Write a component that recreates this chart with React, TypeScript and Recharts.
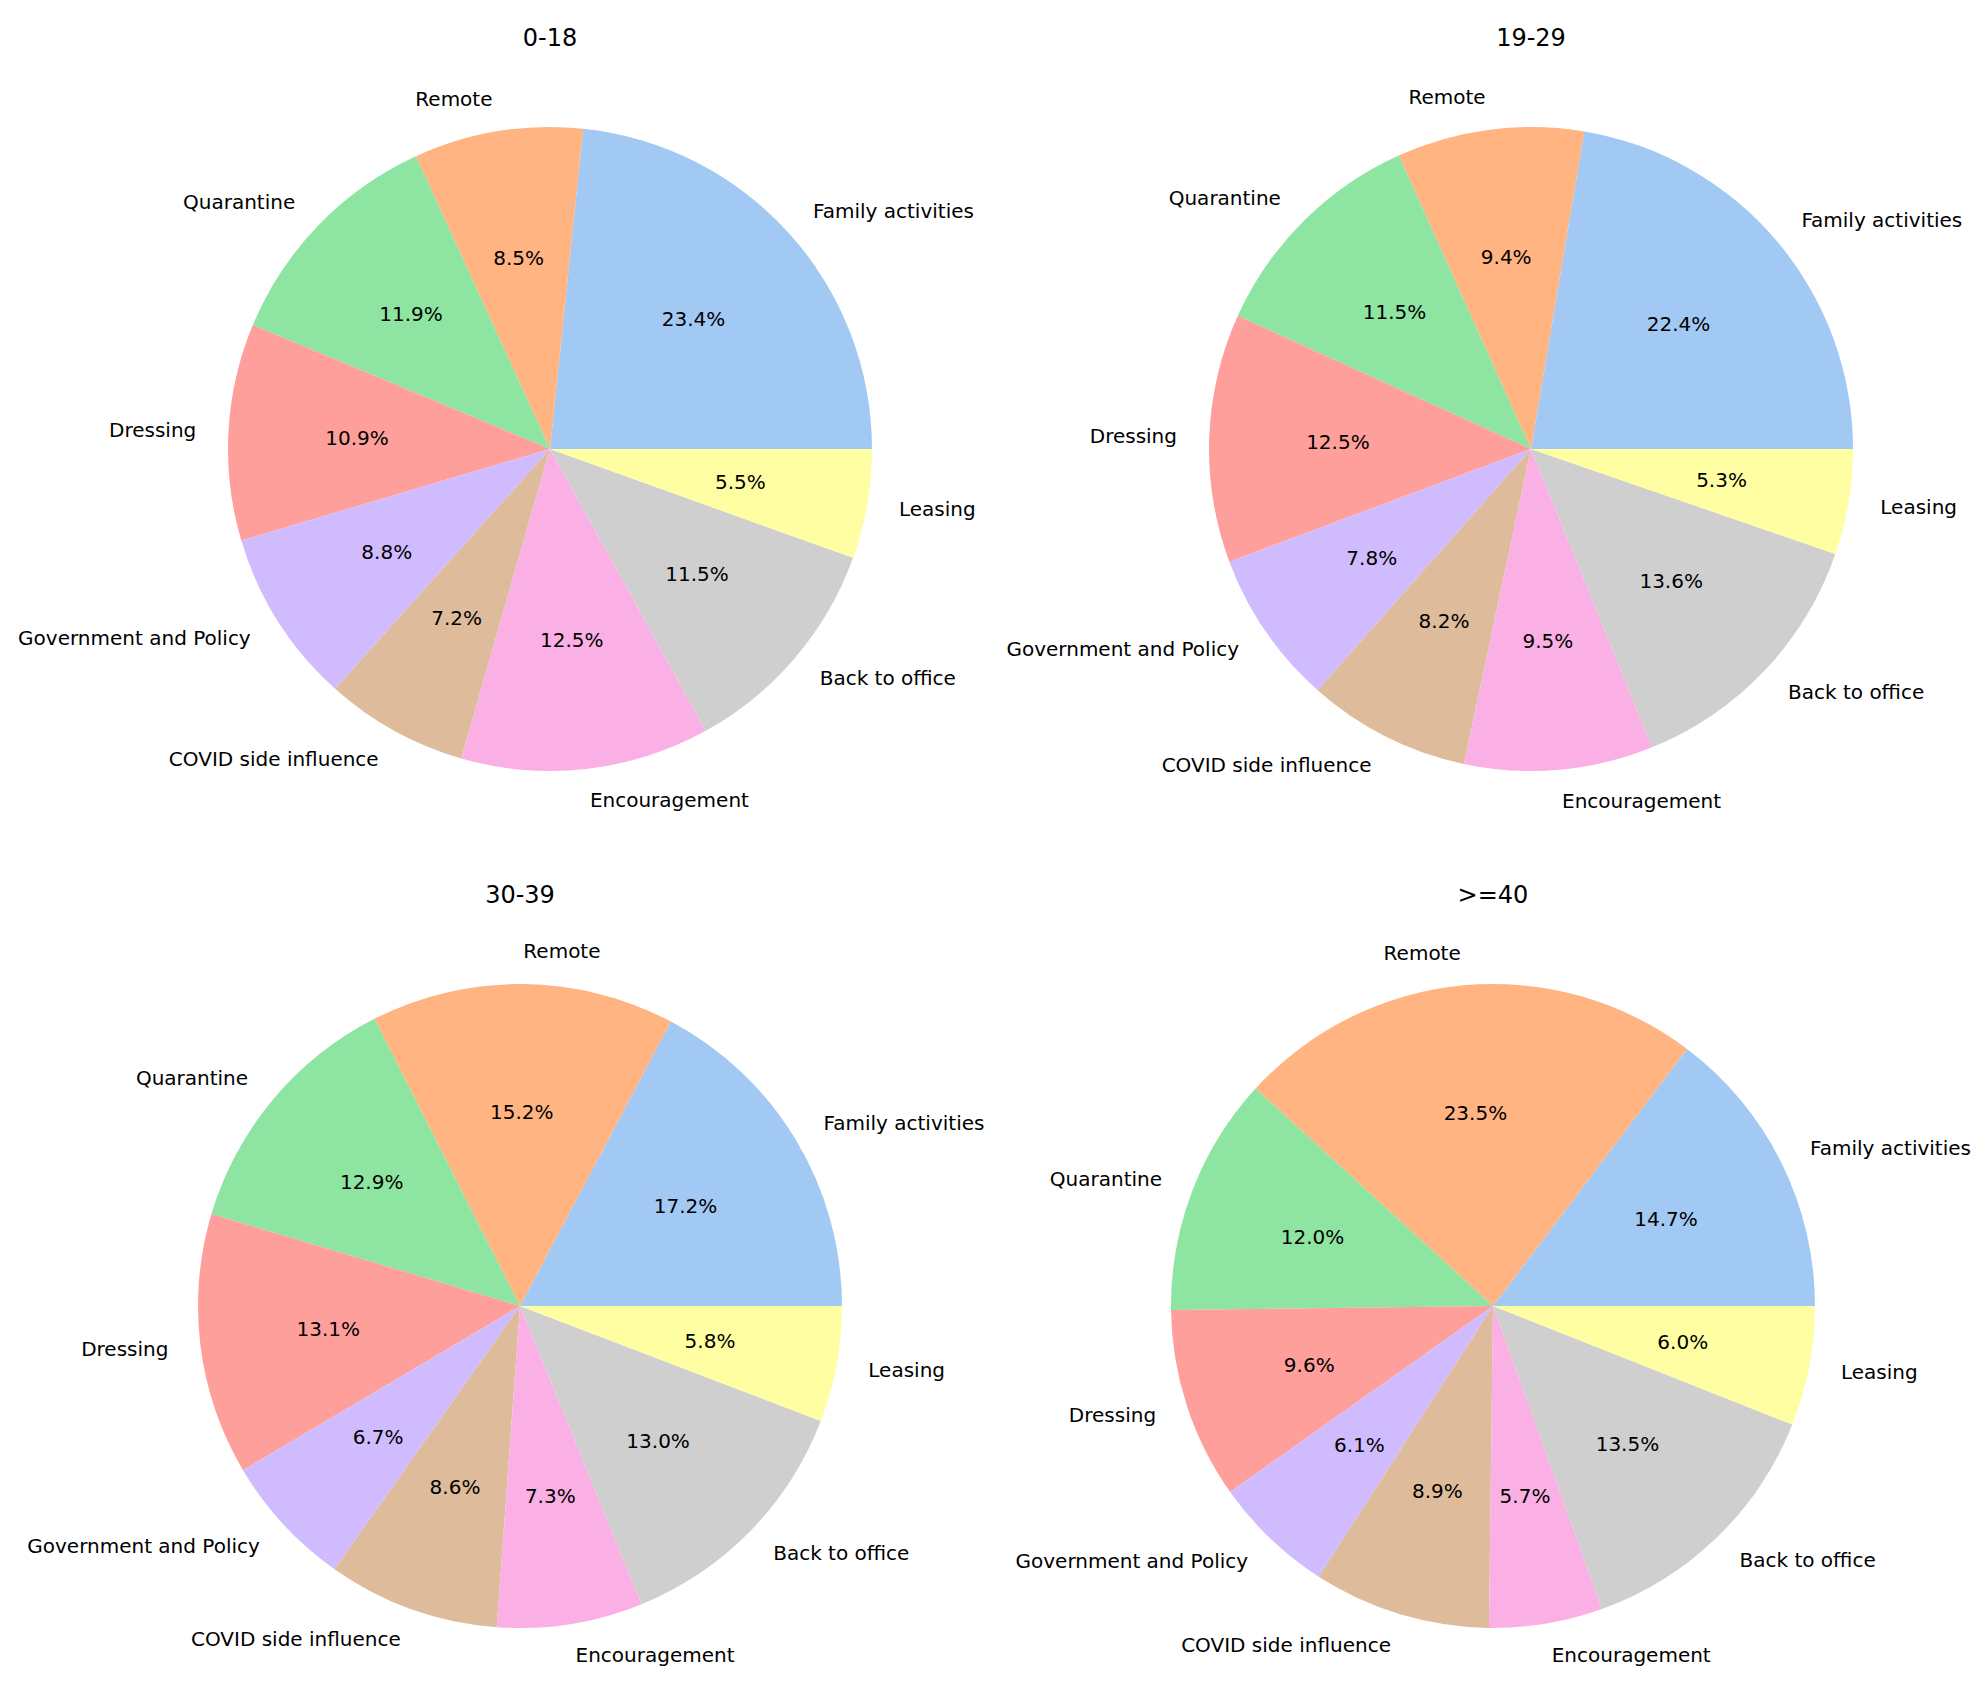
import React from 'react';
import { PieChart, Pie, Cell } from 'recharts';

const CATEGORIES = [
  'Family activities',
  'Remote',
  'Quarantine',
  'Dressing',
  'Government and Policy',
  'COVID side influence',
  'Encouragement',
  'Back to office',
  'Leasing',
];

const AGE_GROUPS = ['0-18', '19-29', '30-39', '>=40'];

// shares (%) per category, same order as CATEGORIES
const SHARES_0_18 = [23.4, 8.5, 11.9, 10.9, 8.8, 7.2, 12.5, 11.5, 5.5];
const SHARES_19_29 = [22.4, 9.4, 11.5, 12.5, 7.8, 8.2, 9.5, 13.6, 5.3];
const SHARES_30_39 = [17.2, 15.2, 12.9, 13.1, 6.7, 8.6, 7.3, 13.0, 5.8];
const SHARES_40_UP = [14.7, 23.5, 12.0, 9.6, 6.1, 8.9, 5.7, 13.5, 6.0];

const COLORS = ['#a1c9f4', '#ffb482', '#8de5a1', '#ff9f9b', '#d0bbff', '#debb9b', '#fab0e4', '#cfcfcf', '#fffea3'];

const FONT = '"DejaVu Sans", Verdana, sans-serif';
const RADIAN = Math.PI / 180;
const RADIUS = 322;
const QW = 993;
const QH = 854;

// quadrant offset + pie centre inside the quadrant
const PANELS = [
  { left: 0, top: 0, cx: 550, cy: 449, shares: SHARES_0_18 },
  { left: QW, top: 0, cx: 538, cy: 449, shares: SHARES_19_29 },
  { left: 0, top: QH, cx: 520, cy: 452, shares: SHARES_30_39 },
  { left: QW, top: QH, cx: 500, cy: 452, shares: SHARES_40_UP },
];

const renderLabel = (props: any) => {
  const { cx, cy, midAngle, outerRadius, name, value } = props;
  const cos = Math.cos(-midAngle * RADIAN);
  const sin = Math.sin(-midAngle * RADIAN);
  const lx = cx + outerRadius * 1.1 * cos;
  const ly = cy + outerRadius * 1.1 * sin;
  const px = cx + outerRadius * 0.6 * cos;
  const py = cy + outerRadius * 0.6 * sin;
  return (
    <g>
      <text x={lx} y={ly + 6.5} textAnchor={lx > cx ? 'start' : 'end'} fontSize={20} fontFamily={FONT} fill="#000">
        {name}
      </text>
      <text x={px} y={py + 6.5} textAnchor="middle" fontSize={20} fontFamily={FONT} fill="#000">
        {`${Number(value).toFixed(1)}%`}
      </text>
    </g>
  );
};

const App: React.FC = () => {
  return (
    <div style={{ position: 'absolute', left: 0, top: 0, width: 1986, height: 1708, background: '#fff', fontFamily: FONT }}>
      {PANELS.map((p, i) => {
        const data = CATEGORIES.map((name, k) => ({ name, value: p.shares[k] }));
        return (
          <div key={AGE_GROUPS[i]} style={{ position: 'absolute', left: p.left, top: p.top, width: QW, height: QH }}>
            <PieChart
              width={QW}
              height={QH}
              margin={{ top: 0, right: 0, bottom: 0, left: 0 }}
              style={{ overflow: 'visible' }}
            >
              <Pie
                data={data}
                dataKey="value"
                nameKey="name"
                cx={p.cx}
                cy={p.cy}
                outerRadius={RADIUS}
                innerRadius={0}
                startAngle={0}
                endAngle={360}
                label={renderLabel}
                labelLine={false}
                isAnimationActive={false}
                stroke="none"
              >
                {data.map((d, k) => (
                  <Cell key={d.name} fill={COLORS[k]} stroke="none" />
                ))}
              </Pie>
            </PieChart>
            <svg width={QW} height={QH} style={{ position: 'absolute', left: 0, top: 0, pointerEvents: 'none' }}>
              <text x={p.cx} y={p.cy - RADIUS - 81.5} textAnchor="middle" fontSize={24} fontFamily={FONT} fill="#000">
                {AGE_GROUPS[i]}
              </text>
            </svg>
          </div>
        );
      })}
    </div>
  );
};

export default App;
